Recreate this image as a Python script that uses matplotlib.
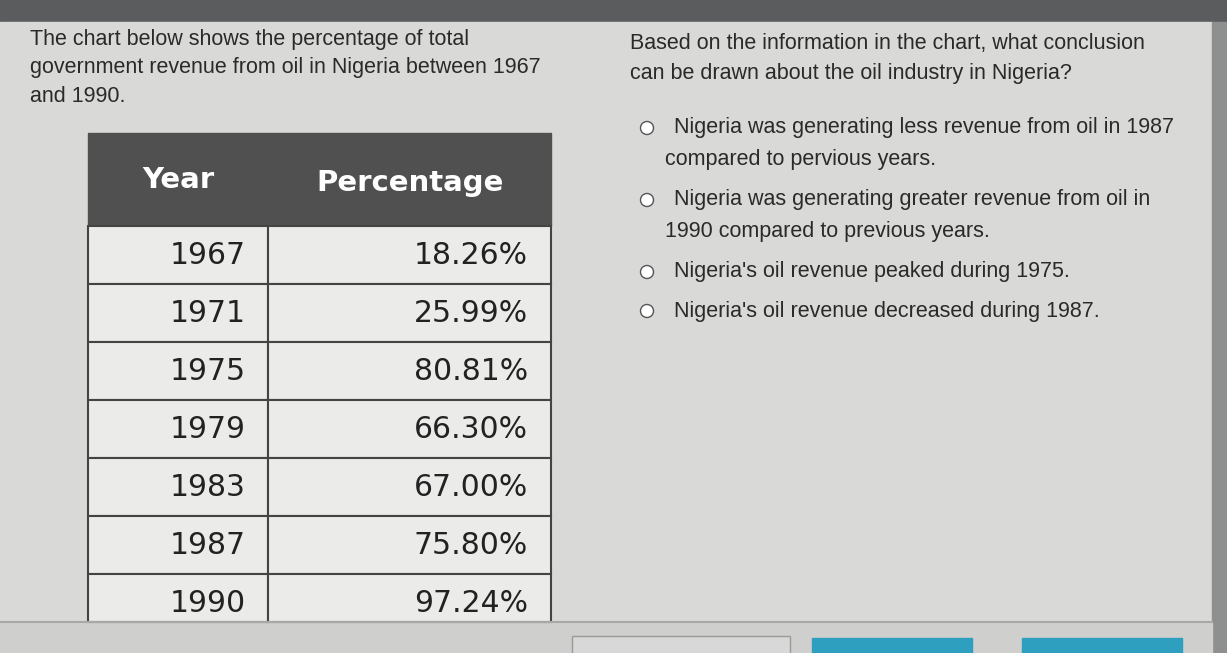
import matplotlib
matplotlib.use('Agg')
import matplotlib.pyplot as plt
from matplotlib.patches import Rectangle, Circle

# --- data ---
years = ["1967", "1971", "1975", "1979", "1983", "1987", "1990"]
percentages = ["18.26%", "25.99%", "80.81%", "66.30%", "67.00%", "75.80%", "97.24%"]
question_left = ["The chart below shows the percentage of total",
                 "government revenue from oil in Nigeria between 1967",
                 "and 1990."]
question_right = ["Based on the information in the chart, what conclusion",
                  "can be drawn about the oil industry in Nigeria?"]
options = [["Nigeria was generating less revenue from oil in 1987", "compared to pervious years."],
           ["Nigeria was generating greater revenue from oil in", "1990 compared to previous years."],
           ["Nigeria's oil revenue peaked during 1975."],
           ["Nigeria's oil revenue decreased during 1987."]]

W, H = 1227, 653
fig = plt.figure(figsize=(W / 100, H / 100), dpi=100, facecolor='#d4d4d2')
ax = fig.add_axes([0, 0, 1, 1])
ax.set_xlim(0, W)
ax.set_ylim(H, 0)
ax.axis('off')

# panel background and frame strips
ax.add_patch(Rectangle((0, 0), W, 22, color='#5a5c5e'))
ax.add_patch(Rectangle((0, 22), 1212, 600, color='#d9d9d7'))
ax.add_patch(Rectangle((1212, 22), 15, 631, color='#8e9090'))
ax.add_patch(Rectangle((0, 622), 1212, 31, color='#cfcfcd'))
ax.plot([0, 1212], [622, 622], color='#a8a8a8', lw=1.5)
ax.add_patch(Rectangle((572, 636), 218, 20, fc='#d8d8d8', ec='#9a9a9a', lw=1))
ax.add_patch(Rectangle((812, 638), 160, 20, color='#2f9fc0'))
ax.add_patch(Rectangle((1022, 638), 160, 20, color='#2f9fc0'))

# question text
for i, line in enumerate(question_left):
    ax.text(30, 39 + i * 29, line, fontsize=15.5, color='#2a2a2a', va='center', family='Liberation Sans')
for i, line in enumerate(question_right):
    ax.text(630, 43 + i * 30, line, fontsize=15.5, color='#2a2a2a', va='center', family='Liberation Sans')

# answer options
y = 128
for opt in options:
    ax.add_patch(Circle((647, y), 6.5, fc='white', ec='#555', lw=1))
    for j, line in enumerate(opt):
        ax.text(674 if j == 0 else 665, y + j * 31, line, fontsize=15.5, color='#2a2a2a',
                va='center', family='Liberation Sans')
    y += 31 * len(opt) + 10 if len(opt) > 1 else 39

# table
x0, xm, x1 = 88, 268, 551
hy0, hy1 = 133, 226
row_h = 58
ax.add_patch(Rectangle((x0, hy0), x1 - x0, hy1 - hy0, color='#505050'))
ax.text(178, 180, "Year", fontsize=21, fontweight='bold', color='white', ha='center', va='center')
ax.text(410, 183, "Percentage", fontsize=21, fontweight='bold', color='white', ha='center', va='center')
for i, (yr, pc) in enumerate(zip(years, percentages)):
    top = hy1 + i * row_h
    h = min(row_h, 622 - top)
    ax.add_patch(Rectangle((x0, top), xm - x0, h, fc='#ebebea', ec='#444', lw=1.5))
    ax.add_patch(Rectangle((xm, top), x1 - xm, h, fc='#ebebea', ec='#444', lw=1.5))
    ax.text(208, top + 29, yr, fontsize=21.5, color='#222', ha='center', va='center')
    ax.text(528, top + 29, pc, fontsize=21.5, color='#222', ha='right', va='center')

fig.savefig('out.png', dpi=100, facecolor=fig.get_facecolor())
